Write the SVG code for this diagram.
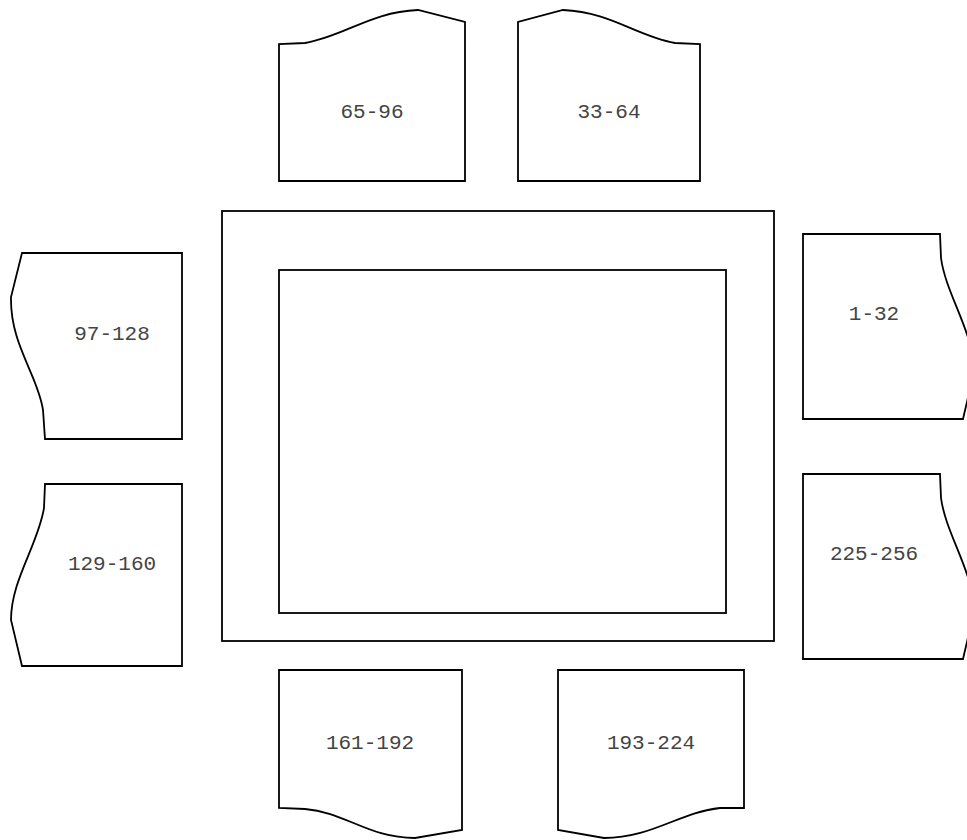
<svg xmlns="http://www.w3.org/2000/svg" width="967" height="840" viewBox="0 0 967 840">
<style>
.s{fill:#fff;stroke:#000;stroke-width:1.8;stroke-linejoin:miter}
.t{font-family:"Liberation Mono","Courier New",monospace;font-size:21px;fill:#444;text-anchor:middle}
</style>
<rect width="967" height="840" fill="#fff"/>
<g id="frame">
<rect class="s" x="222" y="211" width="552" height="430"/>
<rect class="s" x="279" y="270" width="447" height="343"/>
</g>
<g id="n65-96">
<path class="s" d="M279,181 L279,44 L305,43 C345,36 370,12 418,10 L465,22 L465,181 Z"/>
<text class="t" x="372" y="118">65-96</text>
</g>
<g id="n33-64">
<path class="s" d="M518,181 L518,22 L563,10 C611,12 636,36 675,43 L700,44 L700,181 Z"/>
<text class="t" x="609" y="118">33-64</text>
</g>
<g id="n97-128">
<path class="s" d="M182,253 L22,253 L11,297 C10,345 38,375 43,410 L45,439 L182,439 Z"/>
<text class="t" x="112" y="340">97-128</text>
</g>
<g id="n129-160">
<path class="s" d="M182,484 L45,484 L44,508 C38,545 11,580 11,620 L22,666 L182,666 Z"/>
<text class="t" x="112" y="570">129-160</text>
</g>
<g id="n1-32">
<path class="s" d="M803,234 L940,234 L941,258 C946,295 974,332 974,372 L963,419 L803,419 Z"/>
<text class="t" x="874" y="320">1-32</text>
</g>
<g id="n225-256">
<path class="s" d="M803,474 L940,474 L941,498 C946,535 974,572 974,612 L963,659 L803,659 Z"/>
<text class="t" x="874" y="560">225-256</text>
</g>
<g id="n161-192">
<path class="s" d="M279,670 L462,670 L462,830 L415,838 C368,838 345,812 305,809 L279,808 Z"/>
<text class="t" x="370" y="749">161-192</text>
</g>
<g id="n193-224">
<path class="s" d="M558,670 L744,670 L744,808 L720,808 C680,812 652,838 604,838 L558,830 Z"/>
<text class="t" x="651" y="749">193-224</text>
</g>
<g id="connectors"></g>
</svg>
